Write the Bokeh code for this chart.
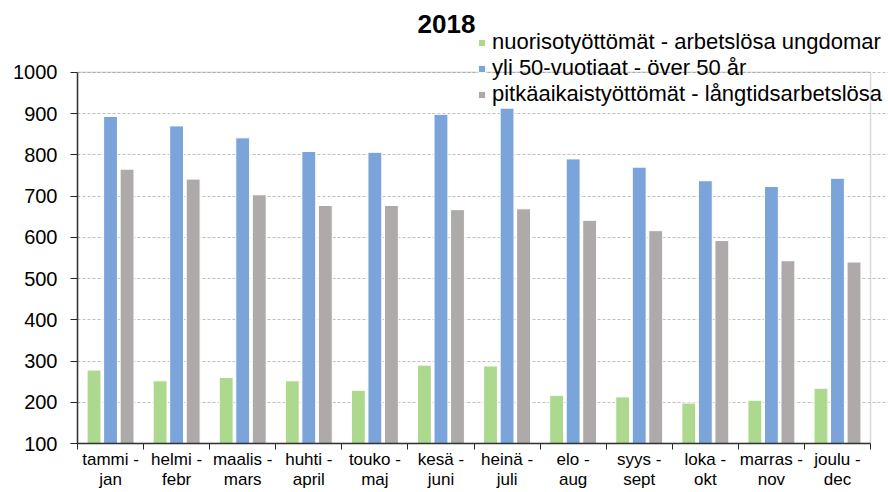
from bokeh.plotting import figure
from bokeh.models import Range1d, FixedTicker, Label, ColumnDataSource, BoxAnnotation
from bokeh.transform import dodge
from bokeh.embed import file_html
from bokeh.resources import INLINE

title_text = "2018"
months = ["tammi -\njan", "helmi -\nfebr", "maalis -\nmars", "huhti -\napril",
          "touko -\nmaj", "kesä -\njuni", "heinä -\njuli", "elo -\naug",
          "syys -\nsept", "loka -\nokt", "marras -\nnov", "joulu -\ndec"]
series_names = ["nuorisotyöttömät - arbetslösa ungdomar",
                "yli 50-vuotiaat - över 50 år",
                "pitkäaikaistyöttömät - långtidsarbetslösa"]
youth = [278, 252, 260, 252, 229, 290, 288, 217, 213, 198, 205, 234]
over50 = [893, 870, 841, 808, 806, 898, 913, 790, 770, 737, 723, 743]
longterm = [765, 741, 703, 677, 677, 667, 669, 641, 616, 592, 543, 540]
y_ticks = [100, 200, 300, 400, 500, 600, 700, 800, 900, 1000]
colors = ["#ADD98F", "#7BA5DA", "#AEAAAA"]

FONT = "Liberation Sans"

# category centres (index based) and category boundaries
centers = [i + 0.5 for i in range(len(months))]
bounds = list(range(len(months) + 1))

src = ColumnDataSource(dict(pos=centers, month=months, youth=youth,
                            over50=over50, longterm=longterm))

# the frame is extended above and right of the chart box so that the
# title and legend (which overlap the box) are not clipped
X_EXTRA = 0.272
Y_EXTRA = 174

p = figure(width=888, height=492,
           x_range=Range1d(0, len(months) + X_EXTRA),
           y_range=Range1d(y_ticks[0], y_ticks[-1] + Y_EXTRA),
           output_backend="svg", toolbar_location=None,
           min_border_left=77, min_border_right=0, min_border_top=0,
           min_border_bottom=0)
p.outline_line_color = None

for key, off, col, name in zip(["youth", "over50", "longterm"], [-0.25, 0.0, 0.25],
                               colors, series_names):
    p.vbar(x=dodge("pos", off), top=key, bottom=y_ticks[0],
           width=0.21, source=src, fill_color=col, line_color="white",
           line_width=1, legend_label=name)

xaxis = p.xaxis[0]
xaxis.bounds = (0, len(months))
xaxis.ticker = FixedTicker(ticks=centers, minor_ticks=bounds)
xaxis.major_label_overrides = {c: m for c, m in zip(centers, months)}
xaxis.major_tick_out = 0
xaxis.major_tick_in = 0
xaxis.major_tick_line_color = None
xaxis.minor_tick_out = 6
xaxis.minor_tick_in = 0
xaxis.minor_tick_line_color = "#262626"
xaxis.axis_line_color = "#262626"
xaxis.axis_line_width = 1.5
xaxis.major_label_text_font = FONT
xaxis.major_label_text_font_size = "17px"
xaxis.major_label_text_line_height = 1.1
xaxis.major_label_text_color = "#000000"
xaxis.major_label_standoff = 0

yaxis = p.yaxis[0]
yaxis.bounds = (y_ticks[0], y_ticks[-1])
yaxis.ticker = FixedTicker(ticks=y_ticks)
yaxis.major_tick_out = 7
yaxis.major_tick_in = 0
yaxis.minor_tick_line_color = None
yaxis.axis_line_color = "#262626"
yaxis.axis_line_width = 1.5
yaxis.major_tick_line_color = "#262626"
yaxis.major_label_text_font = FONT
yaxis.major_label_text_font_size = "20px"
yaxis.major_label_text_color = "#000000"
yaxis.major_label_standoff = 13

p.xgrid.visible = False
p.ygrid.grid_line_color = "#BFBFBF"
p.ygrid.grid_line_dash = "3 2"
p.ygrid.grid_line_width = 1

# chart box (top and right sides visible)
p.add_layout(BoxAnnotation(left=0, right=len(months), bottom=y_ticks[0], top=y_ticks[-1],
                           fill_alpha=0, line_color="#868686", line_width=1.5))

lg = p.legend[0]
lg.location = (400, 336)
lg.background_fill_alpha = 0
lg.border_line_color = None
lg.padding = 0
lg.margin = 0
lg.spacing = 0
lg.glyph_width = 9
lg.glyph_height = 9
lg.label_height = 25
lg.label_standoff = 6
lg.label_text_font = FONT
lg.label_text_font_size = "22px"
lg.label_text_color = "#000000"

p.add_layout(Label(x=369, y=420, x_units="screen", y_units="screen", text=title_text,
                   text_font=FONT, text_font_size="26px", text_font_style="bold",
                   text_align="center", text_baseline="middle", text_color="#000000"))

open("out.html", "w").write(file_html(p, INLINE))
